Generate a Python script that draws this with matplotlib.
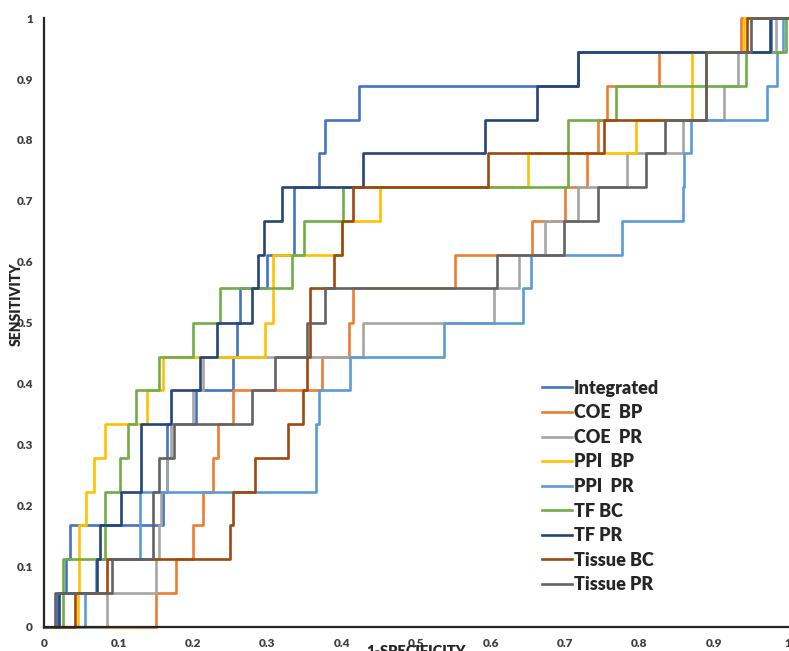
import matplotlib
matplotlib.use('Agg')
import matplotlib.pyplot as plt

# Curvas ROC (degraus)

series_names = ['Integrated', 'COE  BP', 'COE  PR', 'PPI  BP', 'PPI  PR',
                'TF BC', 'TF PR', 'Tissue BC', 'Tissue PR']
series_colors = ['#4472C4', '#ED7D31', '#A5A5A5', '#FFC000', '#5B9BD5',
                 '#70AD47', '#264478', '#9E480E', '#636363']

integrated_fpr = [0, 0.018, 0.030, 0.035, 0.160, 0.165, 0.204, 0.254, 0.259, 0.263, 0.300,
                  0.336, 0.369, 0.377, 0.423, 0.718, 0.977, 1.0]
integrated_tpr = [0, 0.056, 0.111, 0.167, 0.222, 0.333, 0.389, 0.444, 0.5, 0.556, 0.611,
                  0.722, 0.778, 0.833, 0.889, 0.944, 1.0, 1.0]

coe_bp_fpr = [0, 0.151, 0.178, 0.200, 0.213, 0.227, 0.234, 0.254, 0.374, 0.410, 0.415,
              0.552, 0.656, 0.700, 0.729, 0.745, 0.756, 0.827, 0.937, 1.0]
coe_bp_tpr = [0, 0.056, 0.111, 0.167, 0.222, 0.278, 0.333, 0.389, 0.444, 0.5, 0.556,
              0.611, 0.667, 0.722, 0.778, 0.833, 0.889, 0.944, 1.0, 1.0]

coe_pr_fpr = [0, 0.085, 0.150, 0.155, 0.157, 0.165, 0.170, 0.200, 0.214, 0.428, 0.605,
              0.638, 0.673, 0.717, 0.784, 0.858, 0.914, 0.932, 0.984, 1.0]
coe_pr_tpr = [0, 0.056, 0.111, 0.167, 0.222, 0.278, 0.333, 0.389, 0.444, 0.5, 0.556,
              0.611, 0.667, 0.722, 0.778, 0.833, 0.889, 0.944, 1.0, 1.0]

ppi_bp_fpr = [0, 0.045, 0.047, 0.057, 0.067, 0.082, 0.138, 0.160, 0.297, 0.308, 0.400,
              0.451, 0.650, 0.796, 0.871, 0.940, 1.0]
ppi_bp_tpr = [0, 0.056, 0.167, 0.222, 0.278, 0.333, 0.389, 0.444, 0.5, 0.611, 0.667,
              0.722, 0.778, 0.833, 0.944, 1.0, 1.0]

ppi_pr_fpr = [0, 0.055, 0.070, 0.129, 0.366, 0.370, 0.411, 0.538, 0.643, 0.655, 0.777,
              0.858, 0.860, 0.870, 0.972, 0.985, 0.993, 1.0]
ppi_pr_tpr = [0, 0.056, 0.111, 0.222, 0.333, 0.389, 0.444, 0.5, 0.556, 0.611, 0.667,
              0.722, 0.778, 0.833, 0.889, 0.944, 1.0, 1.0]

tf_bc_fpr = [0, 0.026, 0.082, 0.102, 0.113, 0.124, 0.155, 0.200, 0.236, 0.333, 0.349,
             0.402, 0.704, 0.769, 0.943, 0.997, 1.0]
tf_bc_tpr = [0, 0.111, 0.222, 0.278, 0.333, 0.389, 0.444, 0.5, 0.556, 0.611, 0.667,
             0.722, 0.833, 0.889, 0.944, 1.0, 1.0]

tf_pr_fpr = [0, 0.020, 0.071, 0.075, 0.104, 0.130, 0.171, 0.209, 0.233, 0.279, 0.288,
             0.295, 0.320, 0.428, 0.593, 0.663, 0.718, 0.975, 1.0]
tf_pr_tpr = [0, 0.056, 0.111, 0.167, 0.222, 0.333, 0.389, 0.444, 0.5, 0.556, 0.611,
             0.667, 0.722, 0.778, 0.833, 0.889, 0.944, 1.0, 1.0]

tissue_bc_fpr = [0, 0.042, 0.084, 0.250, 0.254, 0.283, 0.328, 0.348, 0.353, 0.357, 0.390,
                 0.400, 0.415, 0.596, 0.753, 0.889, 0.945, 1.0]
tissue_bc_tpr = [0, 0.056, 0.111, 0.167, 0.222, 0.278, 0.333, 0.389, 0.444, 0.556, 0.611,
                 0.667, 0.722, 0.778, 0.833, 0.944, 1.0, 1.0]

tissue_pr_fpr = [0, 0.015, 0.091, 0.147, 0.155, 0.175, 0.279, 0.311, 0.353, 0.377, 0.609,
                 0.699, 0.745, 0.809, 0.834, 0.890, 0.950, 1.0]
tissue_pr_tpr = [0, 0.056, 0.111, 0.222, 0.278, 0.333, 0.389, 0.444, 0.5, 0.556, 0.611,
                 0.667, 0.722, 0.778, 0.833, 0.944, 1.0, 1.0]

all_fpr = [integrated_fpr, coe_bp_fpr, coe_pr_fpr, ppi_bp_fpr, ppi_pr_fpr,
           tf_bc_fpr, tf_pr_fpr, tissue_bc_fpr, tissue_pr_fpr]
all_tpr = [integrated_tpr, coe_bp_tpr, coe_pr_tpr, ppi_bp_tpr, ppi_pr_tpr,
           tf_bc_tpr, tf_pr_tpr, tissue_bc_tpr, tissue_pr_tpr]

ticks = [0, 0.1, 0.2, 0.3, 0.4, 0.5, 0.6, 0.7, 0.8, 0.9, 1]
tick_labels = ['0', '0.1', '0.2', '0.3', '0.4', '0.5', '0.6', '0.7', '0.8', '0.9', '1']

plt.rcParams['font.family'] = ['Lato', 'DejaVu Sans']

fig = plt.figure(figsize=(7.89, 6.51), dpi=100)
ax = fig.add_axes([0.0558, 0.037, 0.9432, 0.935])

for fpr, tpr, nome, cor in zip(all_fpr, all_tpr, series_names, series_colors):
    ax.step(fpr, tpr, where='post', color=cor, lw=1.9, label=nome, clip_on=False)

ax.set_xlim(0, 1)
ax.set_ylim(0, 1)
ax.set_xticks(ticks)
ax.set_xticklabels(tick_labels)
ax.set_yticks(ticks)
ax.set_yticklabels(tick_labels)
ax.tick_params(length=0, labelsize=8.5, colors='#404040', pad=8)
for lbl in ax.get_xticklabels() + ax.get_yticklabels():
    lbl.set_fontweight('heavy')

for s in ['top', 'right']:
    ax.spines[s].set_visible(False)
for s in ['left', 'bottom']:
    ax.spines[s].set_color('#262626')
    ax.spines[s].set_linewidth(1.6)

ax.set_xlabel('1-SPECIFICITY', fontsize=10.5, fontweight='heavy', color='#262626')
ax.xaxis.set_label_coords(0.5, -0.03)
ax.set_ylabel('SENSITIVITY', fontsize=10, fontweight='heavy', color='#262626')
ax.yaxis.set_label_coords(-0.029, 0.53)

leg = ax.legend(loc='upper left', bbox_to_anchor=(0.66, 0.418), frameon=False,
                fontsize=13, handlelength=1.65, handletextpad=0.1, labelspacing=0.42,
                borderaxespad=0)
for t in leg.get_texts():
    t.set_fontweight('heavy')
    t.set_color('#262626')

plt.savefig('out.png', dpi=100)
